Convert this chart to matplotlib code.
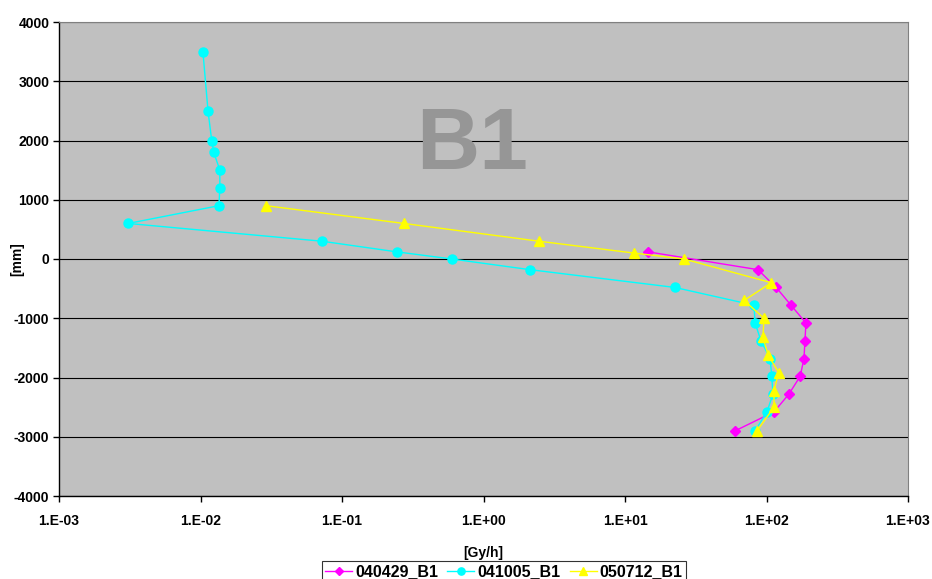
import numpy as np
import matplotlib.pyplot as plt

plt.rcParams['font.family'] = ['Liberation Sans', 'DejaVu Sans']
plt.rcParams['font.weight'] = 'bold'
plt.rcParams['axes.unicode_minus'] = False

# 040429_B1 (magenta diamonds)
dose_0429 = [14.6, 87, 117, 149, 190, 187, 184, 173, 144, 113, 60]
pos_0429 = [120, -180, -480, -780, -1080, -1380, -1680, -1980, -2280, -2580, -2900]

# 041005_B1 (cyan circles)
dose_1005 = [0.0104, 0.0113, 0.0120, 0.0124, 0.0137, 0.0137, 0.0135, 0.00308,
             0.0722, 0.245, 0.598, 2.13, 22.5, 81.6, 83, 91.4, 106, 109, 111,
             100.8, 83]
pos_1005 = [3500, 2500, 2000, 1800, 1500, 1200, 900, 600, 300, 120, 0, -180,
            -480, -780, -1080, -1380, -1680, -1980, -2280, -2580, -2900]

# 050712_B1 (yellow triangles)
dose_0712 = [0.029, 0.274, 2.47, 11.6, 26.1, 108, 69.4, 96, 94.4, 102.6, 122,
             113, 113, 85.7]
pos_0712 = [900, 600, 300, 100, 0, -400, -700, -1000, -1320, -1620, -1920,
            -2220, -2500, -2900]

x_ticks = [1e-3, 1e-2, 1e-1, 1e0, 1e1, 1e2, 1e3]
x_ticklabels = ['1.E-03', '1.E-02', '1.E-01', '1.E+00', '1.E+01', '1.E+02', '1.E+03']
y_ticks = np.arange(-4000, 4001, 1000)

fig = plt.figure(figsize=(9.32, 5.79), dpi=100)
ax = fig.add_axes([59 / 932, 1 - 496 / 579, (908 - 59) / 932, (496 - 22) / 579])
ax.set_facecolor('#C0C0C0')

ax.plot(dose_0429, pos_0429, color='#FF00FF', marker='D', markersize=5.5,
        linewidth=1, label='040429_B1')
ax.plot(dose_1005, pos_1005, color='#00FFFF', marker='o', markersize=6.5,
        linewidth=1, label='041005_B1')
ax.plot(dose_0712, pos_0712, color='#FFFF00', marker='^', markersize=7,
        linewidth=1, label='050712_B1')

ax.set_xscale('log')
ax.set_xlim(1e-3, 1e3)
ax.set_ylim(-4000, 4000)
ax.set_xticks(x_ticks)
ax.set_xticklabels(x_ticklabels)
ax.xaxis.set_minor_locator(plt.NullLocator())
ax.set_yticks(y_ticks)

ax.yaxis.grid(True, color='black', linewidth=0.8)
ax.set_axisbelow(True)

for side in ['top', 'right']:
    ax.spines[side].set_color('#808080')
    ax.spines[side].set_linewidth(0.8)
for side in ['left', 'bottom']:
    ax.spines[side].set_color('black')
    ax.spines[side].set_linewidth(1)

ax.tick_params(axis='both', direction='out', length=4, width=1,
               labelsize=10, pad=3)
ax.tick_params(axis='x', pad=9)

ax.set_xlabel('[Gy/h]', fontsize=10, fontweight='bold', labelpad=13)
ax.set_ylabel('[mm]', fontsize=10, fontweight='bold')
# y label sits next to the short "0" tick label, like the original
ax.yaxis.set_label_coords(-(59 - 24) / 849, 0.5)

ax.text(0.4866, (496 - 169) / 474, 'B1', transform=ax.transAxes, fontsize=63,
        fontweight='bold', color='#969696', ha='center', va='baseline', zorder=1)

leg = fig.legend(loc='upper center', bbox_to_anchor=(504 / 932, 1 - 561 / 579),
                 ncol=3, frameon=True, fancybox=False, edgecolor='black',
                 fontsize=11.5, handlelength=1.7, columnspacing=0.55,
                 handletextpad=0.2, borderpad=0.2, borderaxespad=0,
                 markerscale=0.8)
leg.get_frame().set_linewidth(0.8)

fig.savefig('out.png', dpi=100)
